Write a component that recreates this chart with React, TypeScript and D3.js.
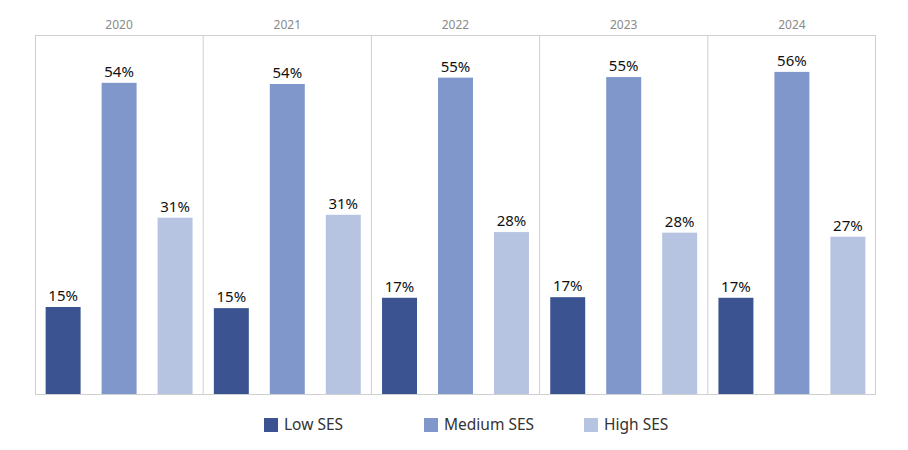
import React from 'react';
import * as d3 from 'd3';

const years = ['2020', '2021', '2022', '2023', '2024'];
const groups = ['Low SES', 'Medium SES', 'High SES'];
const lowValues = [15.1, 14.9, 16.7, 16.8, 16.7];
const mediumValues = [54.0, 53.8, 54.9, 55.0, 55.9];
const highValues = [30.6, 31.1, 28.1, 28.0, 27.3];
const colors = ['#3b5491', '#7f97cb', '#b6c4e2'];

const W = 908;
const H = 450;
const margin = { top: 35, right: 32, bottom: 56, left: 35 };

export default function App() {
  const innerW = W - margin.left - margin.right;
  const innerH = H - margin.top - margin.bottom;
  const series = [lowValues, mediumValues, highValues];

  const xPanel = d3.scaleBand().domain(years).range([0, innerW]).padding(0);
  const xBar = d3.scaleBand()
    .domain(groups)
    .range([0, xPanel.bandwidth()])
    .paddingInner(0.375)
    .paddingOuter(0.19);
  const y = d3.scaleLinear().domain([0, 62.3]).range([innerH, 0]);
  const fmt = (v: number) => `${Math.round(v)}%`;
  const font = '"Noto Sans", "Open Sans", sans-serif';

  return (
    <svg width={W} height={H} style={{ display: 'block', margin: '-8px' }}>
      <g transform={`translate(${margin.left},${margin.top})`}>
        {years.map((yr, i) => {
          const px = xPanel(yr)!;
          return (
            <g key={yr} transform={`translate(${px},0)`}>
              <text x={xPanel.bandwidth() / 2} y={-6} textAnchor="middle" fontSize={12}
                fill="#8a8a8a" fontFamily={font}>{yr}</text>
              {groups.map((gname, j) => {
                const v = series[j][i];
                const bx = xBar(gname)!;
                return (
                  <g key={gname}>
                    <rect x={bx} y={y(v)} width={xBar.bandwidth()} height={innerH - y(v)} fill={colors[j]} />
                    <text x={bx + xBar.bandwidth() / 2} y={y(v) - 6} textAnchor="middle"
                      fontSize={15} fill="#111" fontFamily={font}>{fmt(v)}</text>
                  </g>
                );
              })}
              {i > 0 && <line x1={0} x2={0} y1={0} y2={innerH} stroke="#cfcfcf" />}
            </g>
          );
        })}
        <rect x={0.5} y={0.5} width={innerW - 1} height={innerH} fill="none" stroke="#cfcfcf" />
      </g>
      <g transform={`translate(264,${H - 25})`}>
        {groups.map((gname, j) => (
          <g key={gname} transform={`translate(${j * 160},0)`}>
            <rect x={0} y={-7} width={14} height={14} fill={colors[j]} />
            <text x={20} y={0} dy="0.35em" fontSize={15.5} fill="#333" fontFamily={font}>{gname}</text>
          </g>
        ))}
      </g>
    </svg>
  );
}
